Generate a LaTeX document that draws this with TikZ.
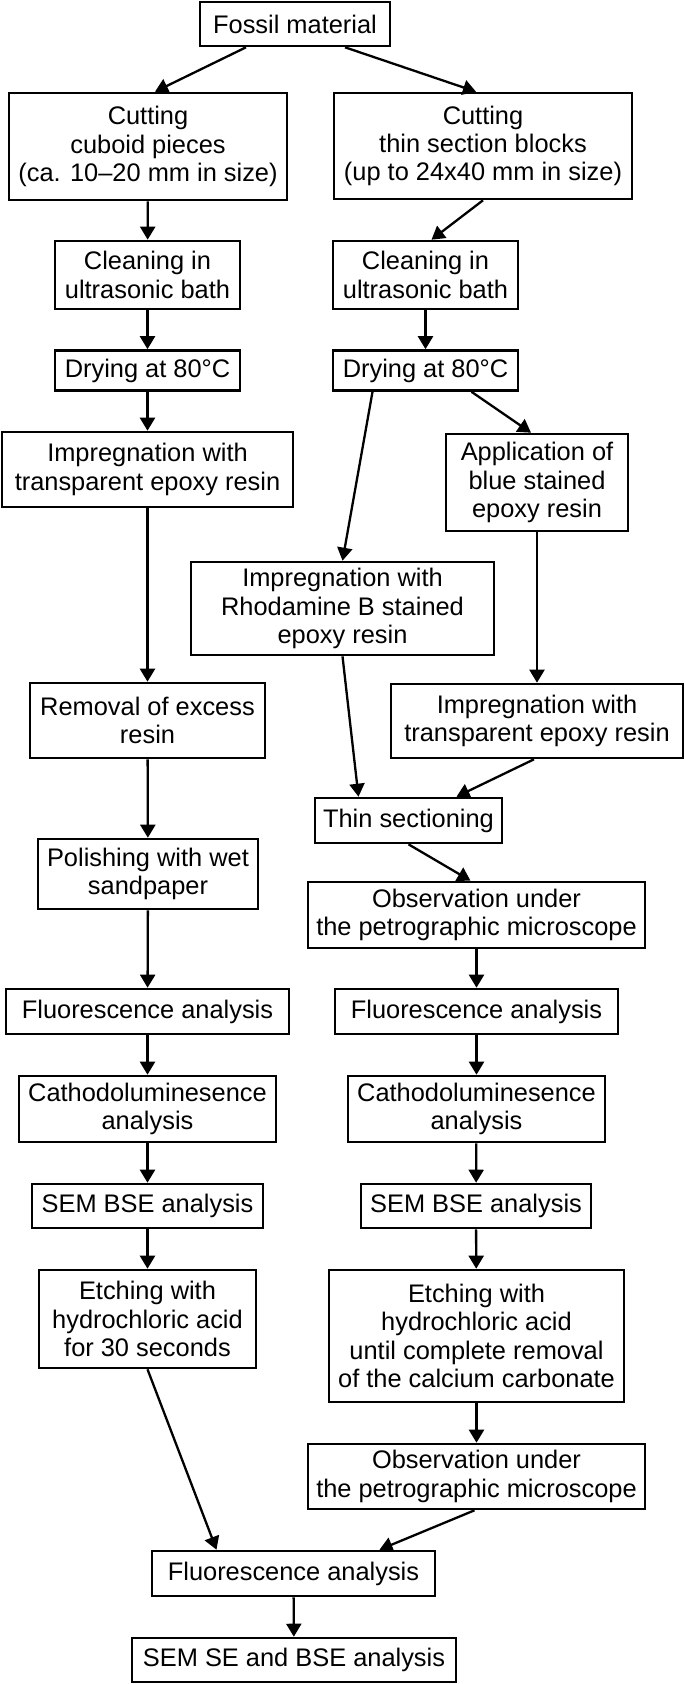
\documentclass[tikz,border=0pt]{standalone}
\usepackage{fontspec}
\setmainfont{Liberation Sans}
\usetikzlibrary{arrows.meta}

\begin{document}
\begin{tikzpicture}[x=1pt, y=-1pt,
  stepbox/.style={draw, line width=2.6pt, align=center, inner sep=1pt,
    font=\fontsize{25.4}{28.3}\selectfont},
  flow/.style={line width=2.3pt, -{Triangle[length=13pt,width=15pt]}}]
\useasboundingbox (0,0) rectangle (685,1684);

% start
\node[stepbox, minimum width=190pt, minimum height=44pt] (fossil) at (295,24) {Fossil material};

% left column
\node[stepbox, minimum width=278pt, minimum height=107pt] (cutL) at (148,146.5) {Cutting\\cuboid pieces\\(ca. 10--20 mm in size)};
\node[stepbox, minimum width=185pt, minimum height=68pt] (cleanL) at (147.5,275) {Cleaning in\\ultrasonic bath};
\node[stepbox, minimum width=185pt, minimum height=40pt] (dryL) at (147.5,370.5) {Drying at 80°C};
\node[stepbox, minimum width=291pt, minimum height=75pt] (impL) at (147.5,469.5) {Impregnation with\\transparent epoxy resin};
\node[stepbox, minimum width=235pt, minimum height=75pt] (remov) at (147.5,720.5) {Removal of excess\\resin};
\node[stepbox, minimum width=220pt, minimum height=70pt] (polish) at (148,874) {Polishing with wet\\sandpaper};
\node[stepbox, minimum width=283pt, minimum height=45pt] (fluL) at (147.5,1011.5) {Fluorescence analysis};
\node[stepbox, minimum width=257pt, minimum height=66pt] (cathL) at (147.5,1109) {Cathodoluminesence\\analysis};
\node[stepbox, minimum width=231pt, minimum height=44pt] (semL) at (147.5,1206) {SEM BSE analysis};
\node[stepbox, minimum width=217pt, minimum height=98pt] (etchL) at (147.5,1319) {Etching with\\hydrochloric acid\\for 30 seconds};

% right column
\node[stepbox, minimum width=298pt, minimum height=106pt] (cutR) at (483,146) {Cutting\\thin section blocks\\(up to 24x40 mm in size)};
\node[stepbox, minimum width=185pt, minimum height=68pt] (cleanR) at (425.5,275) {Cleaning in\\ultrasonic bath};
\node[stepbox, minimum width=185pt, minimum height=40pt] (dryR) at (425.5,370.5) {Drying at 80°C};
\node[stepbox, minimum width=182pt, minimum height=97pt] (appl) at (537,482.5) {Application of\\blue stained\\epoxy resin};
\node[stepbox, minimum width=303pt, minimum height=93pt] (rhod) at (342.5,608.5) {Impregnation with\\Rhodamine B stained\\epoxy resin};
\node[stepbox, minimum width=292pt, minimum height=74pt] (impR) at (537,721) {Impregnation with\\transparent epoxy resin};
\node[stepbox, minimum width=187pt, minimum height=45pt] (thin) at (408.5,820.5) {Thin sectioning};
\node[stepbox, minimum width=337pt, minimum height=66pt] (obsA) at (476.5,915) {Observation under\\the petrographic microscope};
\node[stepbox, minimum width=283pt, minimum height=45pt] (fluR) at (476.5,1011.5) {Fluorescence analysis};
\node[stepbox, minimum width=257pt, minimum height=66pt] (cathR) at (476.5,1109) {Cathodoluminesence\\analysis};
\node[stepbox, minimum width=230pt, minimum height=44pt] (semR) at (476,1206) {SEM BSE analysis};
\node[stepbox, minimum width=295pt, minimum height=132pt] (etchR) at (476.5,1336) {Etching with\\hydrochloric acid\\until complete removal\\of the calcium carbonate};
\node[stepbox, minimum width=337pt, minimum height=65pt] (obsB) at (476.5,1476.5) {Observation under\\the petrographic microscope};

% end
\node[stepbox, minimum width=283pt, minimum height=45pt] (fluB) at (293.5,1573.5) {Fluorescence analysis};
\node[stepbox, minimum width=324pt, minimum height=44pt] (semB) at (294,1660) {SEM SE and BSE analysis};

% connectors
\draw[flow] ([xshift=-49pt]fossil.south) -- ([xshift=7pt]cutL.north);
\draw[flow] ([xshift=50pt]fossil.south) -- ([xshift=-7pt]cutR.north);
\draw[flow] (cutL) -- (cleanL);
\draw[flow] (cleanL) -- (dryL);
\draw[flow] (dryL) -- (impL);
\draw[flow] (impL) -- (remov);
\draw[flow] (remov) -- (polish);
\draw[flow] (polish) -- (fluL);
\draw[flow] (fluL) -- (cathL);
\draw[flow] (cathL) -- (semL);
\draw[flow] (semL) -- (etchL);
\draw[flow] (etchL.south) -- ([xshift=-77pt]fluB.north);
\draw[flow] (cutR.south) -- ([xshift=6pt]cleanR.north);
\draw[flow] (cleanR) -- (dryR);
\draw[flow] ([xshift=-53pt]dryR.south) -- (rhod.north);
\draw[flow] ([xshift=46pt]dryR.south) -- ([xshift=-6pt]appl.north);
\draw[flow] (appl) -- (impR);
\draw[flow] (rhod.south) -- ([xshift=-50pt]thin.north);
\draw[flow] ([xshift=-3pt]impR.south) -- ([xshift=48pt]thin.north);
\draw[flow] (thin.south) -- ([xshift=-6pt]obsA.north);
\draw[flow] (obsA) -- (fluR);
\draw[flow] (fluR) -- (cathR);
\draw[flow] (cathR) -- (semR);
\draw[flow] (semR) -- (etchR);
\draw[flow] (etchR) -- (obsB);
\draw[flow] ([xshift=-2pt]obsB.south) -- ([xshift=86pt]fluB.north);
\draw[flow] (fluB) -- (semB);
\end{tikzpicture}
\end{document}
